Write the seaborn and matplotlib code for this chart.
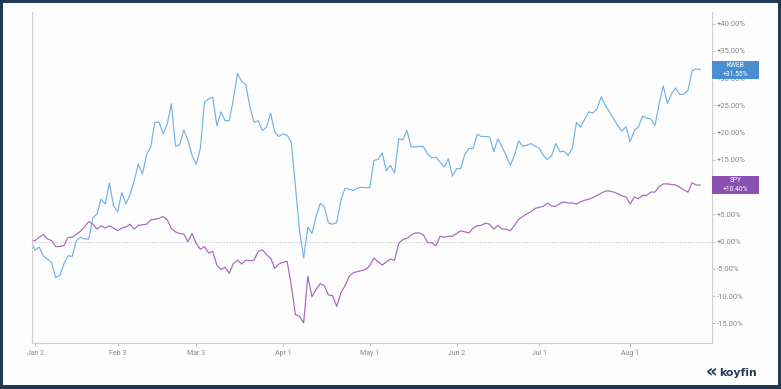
import matplotlib
matplotlib.use("Agg")
import matplotlib.pyplot as plt
import matplotlib.transforms as mtransforms
from matplotlib.patches import Rectangle
import pandas as pd
import seaborn as sns

sns.set_theme(style="white")
plt.rcParams['font.family'] = ['Roboto', 'DejaVu Sans']

# YTD % return per trading day (day 0 = Dec 31 base)
kweb = [0.0, -1.6, -1.0, -2.6, -3.2, -3.8, -6.6, -6.2, -4.1, -2.6,
        -2.7, 0.2, 0.8, 0.5, 0.5, 4.4, 5.1, 7.8, 6.9, 10.8,
        6.6, 5.5, 9.0, 6.9, 8.7, 11.2, 14.2, 12.4, 16.0, 17.4,
        21.9, 21.9, 19.8, 21.6, 25.3, 17.5, 17.8, 20.5, 18.6, 15.8,
        14.2, 17.1, 25.6, 26.2, 26.5, 21.3, 23.8, 22.2, 22.2, 26.2,
        30.9, 29.4, 28.8, 24.7, 21.9, 22.2, 20.4, 21.0, 23.6, 20.1,
        19.3, 19.8, 19.5, 18.3, 10.1, 2.1, -3.0, 2.7, 1.5, 4.6,
        7.0, 6.4, 3.4, 3.2, 3.5, 7.6, 9.8, 9.6, 9.4, 9.8,
        10.0, 9.9, 9.9, 14.9, 15.1, 16.3, 13.0, 14.0, 12.6, 18.9,
        18.7, 20.4, 17.4, 17.4, 17.5, 17.4, 16.1, 15.4, 15.5, 14.6,
        13.7, 15.2, 12.0, 13.4, 13.4, 16.1, 17.1, 17.1, 19.7, 19.3,
        19.3, 19.2, 16.5, 18.9, 17.4, 15.8, 14.0, 15.8, 18.5, 17.5,
        17.7, 18.0, 17.5, 17.2, 15.8, 15.1, 15.8, 18.0, 16.5, 16.6,
        15.8, 17.1, 21.9, 21.0, 22.5, 23.8, 23.6, 24.4, 26.6, 25.0,
        23.8, 22.5, 21.3, 20.3, 21.1, 18.3, 20.4, 21.1, 23.0, 22.7,
        22.5, 21.3, 25.3, 28.6, 25.4, 27.1, 28.2, 27.0, 27.1, 27.8,
        31.4, 31.7, 31.55]

spy = [0.0, 0.2, 0.8, 1.3, 0.5, 0.2, -0.9, -0.9, -0.7, 0.8,
       0.8, 1.4, 1.9, 2.7, 3.7, 3.2, 2.3, 2.9, 2.5, 2.9,
       2.5, 2.0, 2.5, 2.7, 3.2, 2.3, 3.0, 3.1, 3.2, 4.0,
       4.1, 4.3, 4.6, 4.0, 2.4, 1.8, 1.5, 1.4, 0.0, 1.5,
       -0.3, -1.4, -0.9, -2.1, -1.8, -4.3, -5.1, -4.7, -5.8, -4.0,
       -3.4, -4.1, -3.4, -3.5, -3.4, -1.8, -1.5, -2.4, -3.0, -4.9,
       -4.1, -3.8, -3.6, -8.0, -13.4, -13.7, -14.9, -6.3, -10.1, -8.8,
       -7.7, -8.1, -9.8, -9.9, -11.9, -9.4, -8.1, -6.4, -5.7, -5.5,
       -5.3, -5.1, -4.4, -3.0, -3.7, -4.3, -3.7, -3.2, -3.4, -0.3,
       0.4, 0.6, 1.2, 1.6, 1.6, 1.2, -0.2, -0.2, -0.8, 1.0,
       0.8, 1.0, 1.0, 1.5, 2.0, 1.8, 1.6, 2.5, 2.9, 3.0,
       3.4, 3.2, 2.3, 3.0, 2.3, 2.3, 2.0, 3.0, 4.1, 4.6,
       5.1, 5.5, 6.1, 6.3, 6.5, 7.1, 6.5, 6.5, 7.0, 7.3,
       7.1, 7.1, 6.9, 7.3, 7.6, 7.8, 8.1, 8.5, 8.9, 9.3,
       9.3, 9.1, 8.8, 8.4, 8.2, 6.9, 8.2, 7.9, 8.5, 8.5,
       9.1, 9.1, 10.1, 10.6, 10.6, 10.5, 10.4, 10.0, 9.5, 9.1,
       10.8, 10.4, 10.40]

days = list(range(len(kweb)))
tick_days = [1, 21, 40, 61, 82, 103, 123, 145]
tick_labels = ["Jan 2", "Feb 3", "Mar 3", "Apr 1", "May 1", "Jun 2", "Jul 1", "Aug 1"]
y_ticks = [-15, -10, -5, 0, 5, 10, 15, 20, 25, 30, 35, 40]

line_colors = {"KWEB": "#72b2e8", "SPY": "#a468bf"}
box_colors = {"KWEB": "#4a8ed2", "SPY": "#8a50b2"}
navy = "#1f3a55"

df = pd.DataFrame({"day": days * 2,
                   "ret": kweb + spy,
                   "ticker": ["KWEB"] * len(kweb) + ["SPY"] * len(spy)})

W, H = 781, 389
fig = plt.figure(figsize=(W / 100, H / 100), dpi=100, facecolor=navy)
fig.patches.append(Rectangle((3 / W, 4 / H), (W - 6) / W, (H - 7) / H,
                             transform=fig.transFigure, facecolor="#fdfdfd",
                             edgecolor="none", zorder=-10))

ax = fig.add_axes([32 / W, 1 - 343 / H, 680 / W, 331 / H])
ax.set_zorder(1)
ax.set_facecolor("#fdfdfd")

sns.lineplot(data=df, x="day", y="ret", hue="ticker", palette=line_colors,
             linewidth=0.85, legend=False, ax=ax)

ax.axhline(0, color="#c8c8c8", lw=0.8, ls=(0, (1, 1.5)), zorder=0)

ax.set_xlim(0.27, 164.8)
ax.set_ylim(-18.6, 42.15)
ax.set_xlabel("")
ax.set_ylabel("")

# the +10% label sits fully under the SPY tag, as in the source
ax.yaxis.tick_right()
ax.set_yticks(y_ticks)
ax.set_yticklabels(["" if v == 10 else f"{v:+.2f}%" for v in y_ticks])
ax.set_xticks(tick_days)
ax.set_xticklabels(tick_labels)
ax.tick_params(axis="x", bottom=True, length=2, width=0.6, color="#b5b5b5",
               labelsize=5, labelcolor="#8a8a8a", pad=3)
ax.tick_params(axis="y", right=True, left=False, length=1.8, width=0.6,
               color="#b5b5b5", labelsize=5.5, labelcolor="#8a8a8a", pad=1.5)

ax.spines["top"].set_visible(False)
for s in ["left", "right", "bottom"]:
    ax.spines[s].set_color("#cfcfcf")
    ax.spines[s].set_linewidth(0.8)

# last-value tags at the right edge
trans = mtransforms.blended_transform_factory(ax.transAxes, ax.transData)
for name, series in [("KWEB", kweb), ("SPY", spy)]:
    last = series[-1]
    ax.add_patch(Rectangle((1.0, last - 1.65), 47 / 680, 3.3, transform=trans,
                           facecolor=box_colors[name], edgecolor="none",
                           clip_on=False, zorder=5))
    cx = 1.0 + 23.5 / 680
    ax.text(cx, last + 0.8, name, transform=trans, ha="center", va="center",
            color="white", fontsize=4.8, zorder=6, clip_on=False)
    ax.text(cx, last - 0.85, f"{last:+.2f}%", transform=trans, ha="center",
            va="center", color="white", fontsize=4.8, zorder=6, clip_on=False)

# koyfin logo
fig.text(711 / W, 1 - 372 / H, "«", ha="center", va="center", color=navy,
         fontsize=13, fontweight="bold", family="DejaVu Sans")
fig.text(719 / W, 1 - 373 / H, "koyfin", ha="left", va="center", color=navy,
         fontsize=7.8, fontweight="bold", family="DejaVu Sans")

fig.savefig("out.png", dpi=100, facecolor=navy)
